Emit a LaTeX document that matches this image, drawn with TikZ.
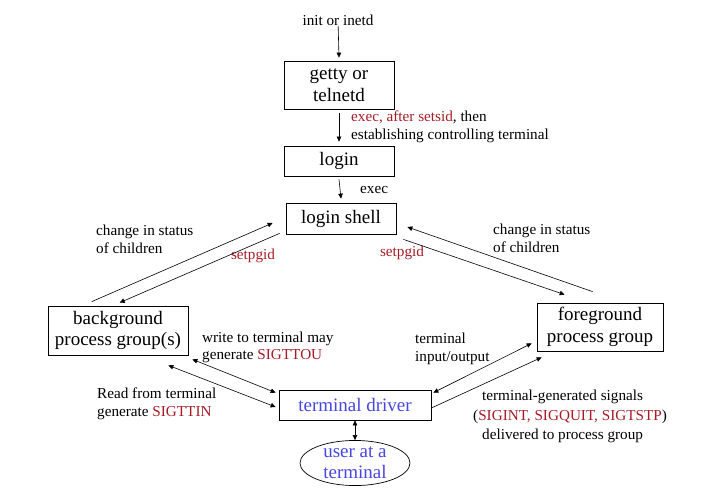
\documentclass[tikz,border=0pt]{standalone}
\usepackage{fontspec}
\setmainfont{Liberation Serif}
\usetikzlibrary{arrows.meta,shapes.geometric}
\definecolor{sigred}{RGB}{165,28,38}
\definecolor{tblue}{RGB}{70,70,225}
\begin{document}
\begin{tikzpicture}[x=1pt,y=-1pt,
  box/.style={draw,line width=0.7pt,minimum width=#1,inner sep=0pt,align=center,font=\fontsize{19}{21.5}\selectfont},
  lbl/.style={inner sep=0pt,align=left,font=\fontsize{15.2}{17.5}\selectfont},
  conn/.style={line width=0.6pt,-{Triangle[length=5pt,width=4.5pt]}},
  dconn/.style={line width=0.6pt,{Triangle[length=5pt,width=4.5pt]}-{Triangle[length=5pt,width=4.5pt]}},
  sig/.style={text=sigred}]
\useasboundingbox (0,0) rectangle (708,498);
% nodes
\node[lbl] (init) at (338,20) {init or inetd};
\node[box=110pt,minimum height=48pt] (getty) at (339,85) {getty or\\telnetd};
\node[box=110pt,minimum height=30pt] (login) at (339,161) {login};
\node[box=110pt,minimum height=31pt] (shell) at (341,218.5) {login shell};
\node[box=140pt,minimum height=49pt] (bg) at (118,330.5) {background\\process group(s)};
\node[box=126pt,minimum height=48pt] (fg) at (600,327) {foreground\\process group};
\node[box=152pt,minimum height=30pt,text=tblue] (driver) at (355,405) {terminal driver};
\node[draw,line width=0.7pt,ellipse,minimum width=110pt,minimum height=44pt,inner sep=0pt,align=center,text=tblue,font=\fontsize{19}{21}\selectfont] (user) at (355,463) {user at a\\terminal};
% labels
\node[lbl,anchor=west] (execlbl) at (351,127) {\textcolor{sigred}{exec, after setsid}, then\\establishing controlling terminal};
\node[lbl,anchor=west] (exec) at (360,190) {exec};
\node[lbl,anchor=west] (chl) at (96,239.5) {change in status\\of children};
\node[lbl,sig] (spl) at (253,256) {setpgid};
\node[lbl,anchor=west] (chr) at (493,238.5) {change in status\\of children};
\node[lbl,sig] (spr) at (402,253) {setpgid};
\node[lbl,anchor=west] (write) at (202,347.5) {write to terminal may\\generate \textcolor{sigred}{SIGTTOU}};
\node[lbl,anchor=west] (tio) at (415,349) {terminal\\input/output};
\node[lbl,anchor=west] (read) at (97,404) {Read from terminal\\generate \textcolor{sigred}{SIGTTIN}};
\node[lbl,anchor=west,font=\fontsize{15.2}{19.5}\selectfont] (tgs) at (482,416.5) {terminal-generated signals\\\hspace*{-9pt}(\textcolor{sigred}{SIGINT, SIGQUIT, SIGTSTP})\\delivered to process group};
% connectors
\draw[conn] (init) -- ([yshift=3pt]getty.north);
\draw[conn] ([shift={(0,4)}]getty.south) -- ([shift={(0,-4)}]login.north);
\draw[conn] ([shift={(0,3)}]login.south) -- ([shift={(0,-4)}]shell.north);
\draw[conn] ([shift={(44,-4)}]bg.north west) -- ([shift={(-13,4.5)}]shell.west);
\draw[conn] ([shift={(-6,-1)}]shell.south west) -- ([shift={(72,-3)}]bg.north west);
\draw[conn] ([shift={(56,-11)}]fg.north west) -- ([shift={(11,8.5)}]shell.east);
\draw[conn] ([shift={(7,5)}]shell.south east) -- ([shift={(28,-8)}]fg.north west);
\draw[dconn] ([shift={(4,4)}]bg.south east) -- ([shift={(-3,3)}]driver.north west);
\draw[dconn] ([shift={(-20,10)}]bg.south east) -- ([shift={(-3,2)}]driver.west);
\draw[dconn] ([shift={(2,3)}]driver.north east) -- ([shift={(-5,-8)}]fg.south west);
\draw[conn] ([shift={(0,3)}]driver.east) -- ([shift={(5,6)}]fg.south west);
\draw[dconn] (driver.south) -- (user.north);
\end{tikzpicture}
\end{document}
